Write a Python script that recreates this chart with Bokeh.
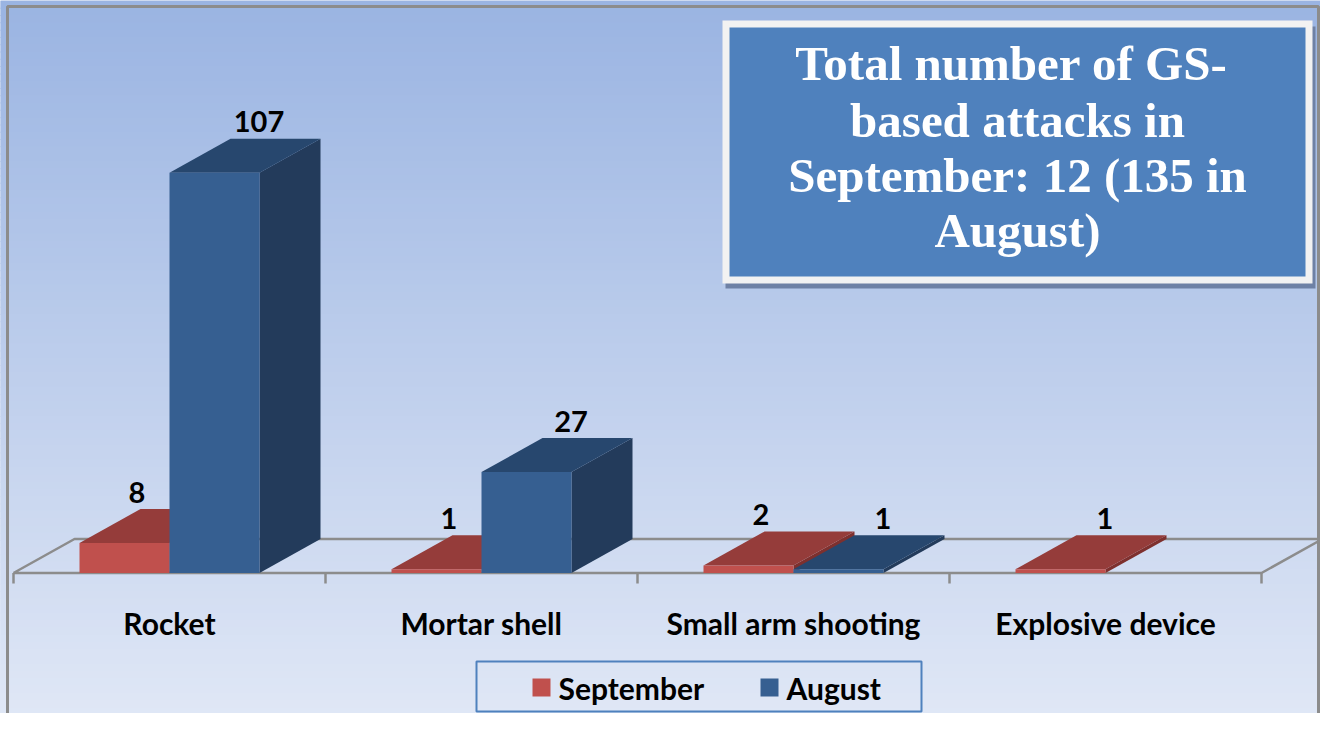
from bokeh.plotting import figure
from bokeh.models import Range1d
from bokeh.core.properties import value
from bokeh.embed import file_html
from bokeh.resources import INLINE

# ---------------- data ----------------
categories = ["Rocket", "Mortar shell", "Small arm shooting", "Explosive device"]
september = [8, 1, 2, 1]
august = [107, 27, 1, 0]
series_names = ["September", "August"]
title_lines = ["Total number of  GS-", "based attacks in", "September: 12 (135 in", "August)"]

# ---------------- layout helpers (image pixels -> data units) ----------------
W, H = 1320, 713
X0, XS = 13.0, 312.0      # x of category axis origin, px per category
Y0, YS = 572.5, 3.74      # y of value 0, px per value unit


def U(px):
    return (px - X0) / XS


def V(py):
    return (Y0 - py) / YS


DU = 61.0 / XS            # 3-D depth offset (x)
DV = 34.0 / YS            # 3-D depth offset (y)
BW = 90.0 / XS            # bar width

FONT = value("Lato")

p = figure(width=W, height=H, output_backend="svg", toolbar_location=None,
           x_range=Range1d(U(0), U(W)), y_range=Range1d(V(H), V(0)),
           x_axis_location=None, y_axis_location=None, min_border=0)
p.grid.visible = False
p.outline_line_color = None
p.background_fill_color = "#c0d0ec"
p.border_fill_color = "white"

# ---------------- background gradient ----------------
top_c = (154, 180, 226)
bot_c = (225, 232, 246)
n_strips = 100
gl, gr, gt, gb, gc = [], [], [], [], []
for k in range(n_strips):
    y0 = k * 729.0 / n_strips
    y1 = y0 + 729.0 / n_strips + 1.0
    f = (k + 0.5) / n_strips
    c = tuple(int(round(a + (b - a) * f)) for a, b in zip(top_c, bot_c))
    gl.append(U(-5)); gr.append(U(W + 5)); gt.append(V(y0)); gb.append(V(y1))
    gc.append("#%02x%02x%02x" % c)
p.quad(left=gl, right=gr, top=gt, bottom=gb, fill_color=gc, line_color=None)

# chart border (left, top, right)
p.line([U(7), U(7), U(W - 2), U(W - 2)], [V(H + 5), V(6), V(6), V(H + 5)],
       line_color="#8c8c8c", line_width=3)

# ---------------- floor ----------------
n = len(categories)
p.line([0, n, n + DU, DU, 0], [0, 0, DV, DV, 0], line_color="#8c8c8c", line_width=2.5)
p.segment(x0=list(range(n + 1)), y0=[0] * (n + 1), x1=list(range(n + 1)),
          y1=[V(583)] * (n + 1), line_color="#8c8c8c", line_width=2.5)

# ---------------- 3-D bars ----------------
colors = [
    {"front": "#c0504d", "top": "#953c3a", "side": "#7e302e"},
    {"front": "#365f91", "top": "#27476e", "side": "#233b5b"},
]
series = [september, august]
lab_x, lab_y, lab_t = [], [], []
for s, vals in enumerate(series):
    fl, fr, ft = [], [], []
    tx, ty, sx, sy = [], [], [], []
    for i, val in enumerate(vals):
        if val <= 0:
            continue
        left = i + 0.5 - BW + s * BW
        right = left + BW
        fl.append(left); fr.append(right); ft.append(val)
        tx.append([left, right, right + DU, left + DU])
        ty.append([val, val, val + DV, val + DV])
        sx.append([right, right + DU, right + DU, right])
        sy.append([0, DV, val + DV, val])
        # data label
        if s == 1 or august[i] <= 0:
            off = 14.0 / XS
        else:
            off = -18.0 / XS
        lab_x.append((left + right) / 2 + DU / 2 + off)
        lab_y.append(val + DV + 17.0 / YS)
        lab_t.append(str(val))
    c = colors[s]
    p.patches(xs=sx, ys=sy, fill_color=c["side"], line_color=None)
    p.patches(xs=tx, ys=ty, fill_color=c["top"], line_color=None)
    p.quad(left=fl, right=fr, top=ft, bottom=[0] * len(fl), fill_color=c["front"],
           line_color=None)

p.text(x=lab_x, y=lab_y, text=lab_t, text_font=FONT, text_font_style="bold",
       text_font_size="29px", text_color="black", text_align="center",
       text_baseline="middle")

# ---------------- category labels ----------------
p.text(x=[i + 0.5 for i in range(n)], y=[V(622)] * n, text=categories,
       text_font=FONT, text_font_style="bold", text_font_size="30px",
       text_color="black", text_align="center", text_baseline="middle")

# ---------------- legend ----------------
p.quad(left=[U(476)], right=[U(921)], top=[V(661)], bottom=[V(711)],
       fill_color=None, line_color="#4f81bd", line_width=2)
sq_left = [532, 760]
txt_left = [558, 786]
p.quad(left=[U(x) for x in sq_left], right=[U(x + 18) for x in sq_left],
       top=[V(678)] * 2, bottom=[V(696)] * 2,
       fill_color=[colors[0]["front"], colors[1]["front"]], line_color=None)
p.text(x=[U(x) for x in txt_left], y=[V(687)] * 2, text=series_names,
       text_font=FONT, text_font_style="bold", text_font_size="30px",
       text_color="black", text_align="left", text_baseline="middle")

# ---------------- title box ----------------
p.quad(left=[U(725)], right=[U(1315)], top=[V(26)], bottom=[V(288)],
       fill_color="#6e81a5", line_color=None)
p.quad(left=[U(722)], right=[U(1312)], top=[V(20)], bottom=[V(283)],
       fill_color="#f2f2f2", line_color=None)
p.quad(left=[U(729)], right=[U(1305)], top=[V(27)], bottom=[V(276)],
       fill_color="#4f81bd", line_color=None)
centers = [63, 120, 175, 230]
p.text(x=[U(1017)] * len(title_lines), y=[V(c) for c in centers], text=title_lines,
       text_font=value("Liberation Serif"), text_font_style="bold",
       text_font_size="49px", text_color="white", text_align="center",
       text_baseline="middle")

open("out.html", "w").write(file_html(p, INLINE))
